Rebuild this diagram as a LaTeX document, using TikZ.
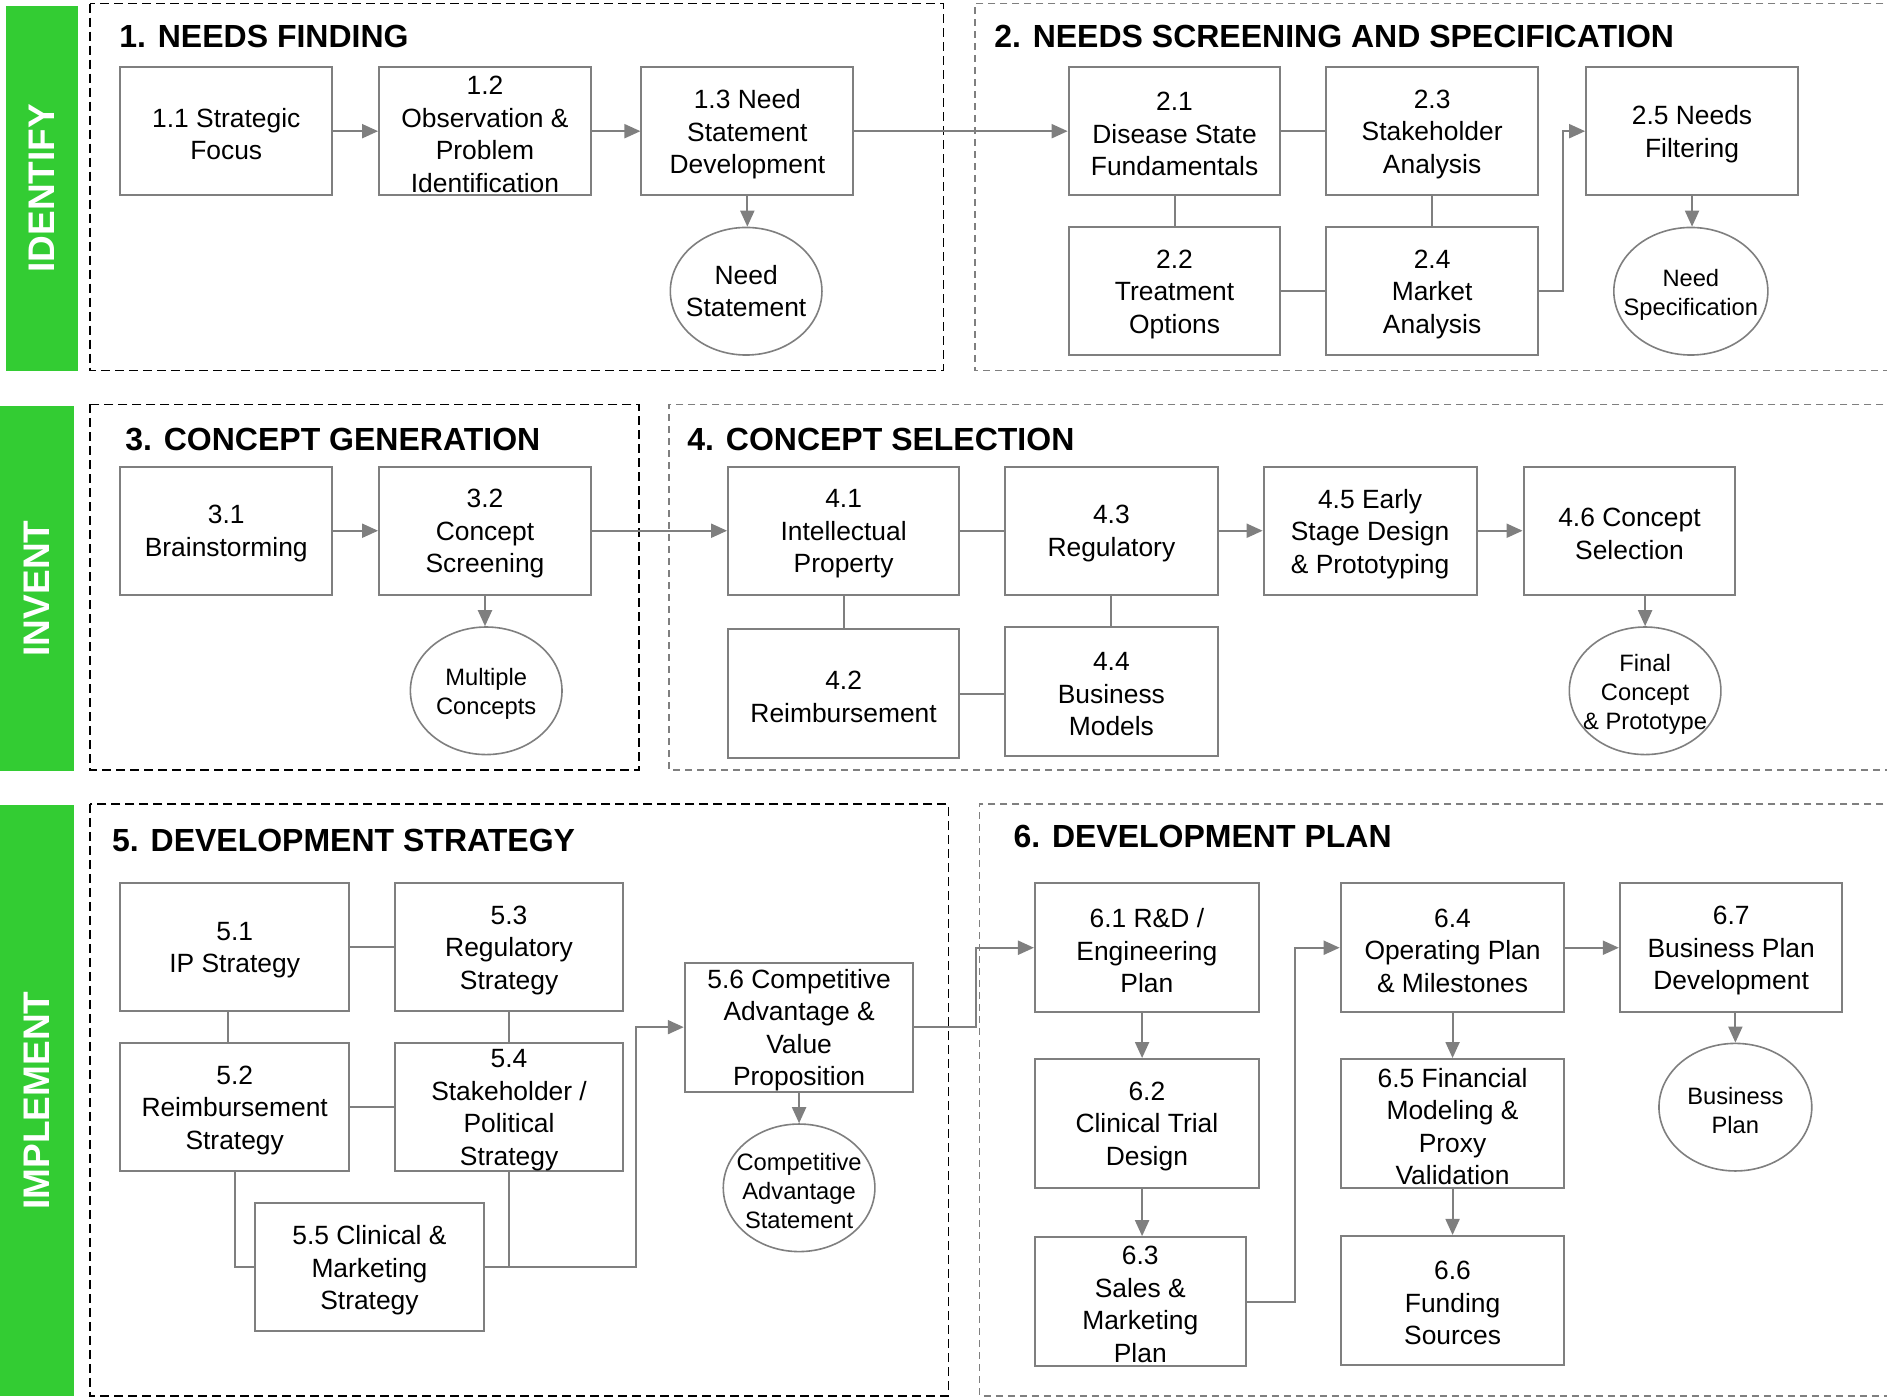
\documentclass[tikz,border=0pt]{standalone}
\usepackage{fontspec}
\setmainfont{Liberation Sans}
\usetikzlibrary{arrows.meta,shapes.geometric}
\definecolor{grn}{RGB}{51,204,51}
\definecolor{gry}{RGB}{127,127,127}
\newcommand\mkbox[6]{%
  \node[bx, minimum width={(#4-#2)*1.2034pt}, minimum height={(#5-#3)*1.2034pt}] (#1) at ({(#2+#4)/2},{(#3+#5)/2}) {};
  \node[bt] (#1t) at (#1.center) {#6};}
\newcommand\mkell[6]{%
  \node[el, minimum width={#4*1.2034pt}, minimum height={#5*1.2034pt}] (#1) at (#2,#3) {};
  \node[et] (#1t) at (#1.center) {#6};}
\begin{document}
\begin{tikzpicture}[x=1.2034pt,y=-1.2034pt,
 bx/.style={draw=gry, line width=2pt, fill=white, inner sep=0pt, rectangle},
 btx/.style={align=center, inner sep=0pt, font=\fontsize{26.4}{32.5}\selectfont},
 bt/.style={btx, yshift=-3pt},
 el/.style={ellipse, draw=gry, line width=1.6pt, fill=white, inner sep=0pt},
 et/.style={align=center, inner sep=0pt, yshift=-3.5pt, font=\fontsize{23.7}{29}\selectfont},
 ttl/.style={anchor=west, inner sep=0pt, font=\fontsize{32}{36}\selectfont\bfseries},
 side/.style={fill=grn, draw=none, inner sep=0pt, rectangle},
 sidet/.style={rotate=90, text=white, font=\fontsize{37}{40}\selectfont\bfseries, inner sep=0pt},
 dk/.style={draw=black, line width=1.6pt, dash pattern=on 9pt off 5pt},
 lg/.style={draw=gry, line width=1.5pt, dash pattern=on 7pt off 5pt},
 ln/.style={draw=gry, line width=2pt},
 ar/.style={ln, -{Triangle[length=16pt,width=14pt]}},
]
\useasboundingbox (0,0) rectangle (1568,1162);

% green side bars
\node[side, minimum width={60*1.2034pt}, minimum height={303*1.2034pt}] (g1) at (35,156.5) {};
\node[sidet] (g1t) at (g1.center) {IDENTIFY};
\node[side, minimum width={61.5*1.2034pt}, minimum height={304*1.2034pt}] (g2) at (30.75,489) {};
\node[sidet] (g2t) at (g2.center) {INVENT};
\node[side, minimum width={61.5*1.2034pt}, minimum height={491*1.2034pt}] (g3) at (30.75,914.5) {};
\node[sidet] (g3t) at (g3.center) {IMPLEMENT};

% dashed frames
\draw[dk] (75,3) rectangle (784,308);
\draw[lg] (1575,3) -- (810,3) -- (810,308) -- (1575,308);
\draw[dk] (75,336) rectangle (531,640);
\draw[lg] (1575,336) -- (556,336) -- (556,640) -- (1575,640);
\draw[dk] (75,668) rectangle (788,1160);
\draw[lg] (1575,668) -- (814,668) -- (814,1160) -- (1575,1160);

% titles
\node[ttl] (t1) at (99,30) {1. NEEDS FINDING};
\node[ttl] (t2) at (826,30) {2. NEEDS SCREENING AND SPECIFICATION};
\node[ttl] (t3) at (104,365) {3. CONCEPT GENERATION};
\node[ttl] (t4) at (571,365) {4. CONCEPT SELECTION};
\node[ttl] (t5) at (93,698) {5. DEVELOPMENT STRATEGY};
\node[ttl] (t6) at (842,695) {6. DEVELOPMENT PLAN};

% boxes
\mkbox{b11}{100}{56}{276}{162}{1.1 Strategic\\Focus}
\mkbox{b12}{315}{56}{491}{162}{1.2\\Observation \&\\Problem\\Identification}
\mkbox{b13}{533}{56}{709}{162}{1.3 Need\\Statement\\Development}
\mkbox{b21}{888}{56}{1064}{162}{2.1\\Disease State\\Fundamentals}
\mkbox{b23}{1102}{56}{1278}{162}{2.3\\Stakeholder\\Analysis}
\mkbox{b25}{1318}{56}{1494}{162}{2.5 Needs\\Filtering}
\mkbox{b22}{888}{189}{1064}{295}{2.2\\Treatment\\Options}
\mkbox{b24}{1102}{189}{1278}{295}{2.4\\Market\\Analysis}
\mkbox{b31}{100}{388}{276}{494}{3.1\\Brainstorming}
\mkbox{b32}{315}{388}{491}{494}{3.2\\Concept\\Screening}
\mkbox{b41}{605}{388}{797}{494}{4.1\\Intellectual\\Property}
\mkbox{b43}{835}{388}{1012}{494}{4.3\\Regulatory}
\mkbox{b45}{1050}{388}{1227}{494}{4.5 Early\\Stage Design\\\& Prototyping}
\mkbox{b46}{1266}{388}{1442}{494}{4.6 Concept\\Selection}
\mkbox{b42}{605}{523}{797}{630}{4.2\\Reimbursement}
\mkbox{b44}{835}{521}{1012}{628}{4.4\\Business\\Models}
\mkbox{b51}{100}{734}{290}{840}{5.1\\IP Strategy}
\mkbox{b53}{328}{734}{518}{840}{5.3\\Regulatory\\Strategy}
\mkbox{b52}{100}{867}{290}{973}{5.2\\Reimbursement\\Strategy}
\mkbox{b54}{328}{867}{518}{973}{5.4\\Stakeholder /\\Political\\Strategy}
\mkbox{b55}{212}{1000}{402}{1106}{5.5 Clinical \&\\Marketing\\Strategy}
\mkbox{b56}{569}{800}{759}{907}{5.6 Competitive\\Advantage \&\\Value\\Proposition}
\mkbox{b61}{860}{734}{1046}{841}{6.1 R\&D /\\Engineering\\Plan}
\mkbox{b62}{860}{880}{1046}{987}{6.2\\Clinical Trial\\Design}
\mkbox{b63}{860}{1028}{1035}{1135}{6.3\\Sales \&\\Marketing\\Plan}
\mkbox{b64}{1114}{734}{1300}{841}{6.4\\Operating Plan\\\& Milestones}
\mkbox{b65}{1114}{880}{1300}{987}{6.5 Financial\\Modeling \&\\Proxy\\Validation}
\mkbox{b66}{1114}{1027}{1300}{1134}{6.6\\Funding\\Sources}
\mkbox{b67}{1346}{734}{1531}{841}{6.7\\Business Plan\\Development}

% ellipses
\node[el, minimum width={126*1.2034pt}, minimum height={106*1.2034pt}] (e1) at (620,242) {};
\node[btx] (e1t) at (e1.center) {Need\\Statement};
\mkell{e2}{1405}{242}{128}{106}{Need\\Specification}
\mkell{e3}{404}{574}{126}{106}{Multiple\\Concepts}
\mkell{e4}{1367}{574}{126}{106}{Final\\Concept\\\& Prototype}
\mkell{e5}{664}{987}{126}{106}{Competitive\\Advantage\\Statement}
\mkell{e6}{1442}{920}{127}{106}{Business\\Plan}

% connectors section 1-2
\draw[ar] (b11.east) -- (b12.west);
\draw[ar] (b12.east) -- (b13.west);
\draw[ar] (b13.east) -- (b21.west);
\draw[ar] (b13.south) -- (b13.south |- e1.north);
\draw[ln] (b21.east) -- (b23.west);
\draw[ln] (b21.south) -- (b22.north);
\draw[ln] (b23.south) -- (b24.north);
\draw[ln] (b22.east) -- (b24.west);
\draw[ar] (b24.east) -- ++(20,0) |- (b25.west);
\draw[ar] (b25.south) -- (b25.south |- e2.north);

% connectors section 3-4
\draw[ar] (b31.east) -- (b32.west);
\draw[ar] (b32.east) -- (b41.west);
\draw[ar] (b32.south) -- (b32.south |- e3.north);
\draw[ln] (b41.east) -- (b43.west);
\draw[ln] (b41.south) -- (b42.north);
\draw[ln] (b43.south) -- (b44.north);
\draw[ln] (b42.east) -- (b42.east -| b44.west);
\draw[ar] (b43.east) -- (b45.west);
\draw[ar] (b45.east) -- (b46.west);
\draw[ar] (e4.north |- b46.south) -- (e4.north);

% connectors section 5
\draw[ln] (b51.east) -- (b53.west);
\draw[ln] ([xshift=-7pt]b51.south) -- ([xshift=-7pt]b52.north);
\draw[ln] (b53.south) -- (b54.north);
\draw[ln] (b52.east) -- (b54.west);
\draw[ln] (b52.south) |- (b55.west);
\draw[ln] (b54.south) -- (b54.south |- b55.east);
\draw[ar] (b55.east) -- ++(126,0) |- (b56.west);
\draw[ar] (b56.south) -- (b56.south |- e5.north);
\draw[ar] (b56.east) -- ++(51,0) |- (b61.west);

% connectors section 6
\draw[ar] ([xshift=-4.8pt]b61.south) -- ([xshift=-4.8pt]b61.south |- b62.north);
\draw[ar] ([xshift=-4.8pt]b62.south) -- ([xshift=-4.8pt]b62.south |- b63.north);
\draw[ar] (b63.east) -- ++(40,0) |- (b64.west);
\draw[ar] (b64.south) -- (b65.north);
\draw[ar] (b65.south) -- (b66.north);
\draw[ar] (b64.east) -- (b67.west);
\draw[ar] (e6.north |- b67.south) -- (e6.north);
\end{tikzpicture}
\end{document}
